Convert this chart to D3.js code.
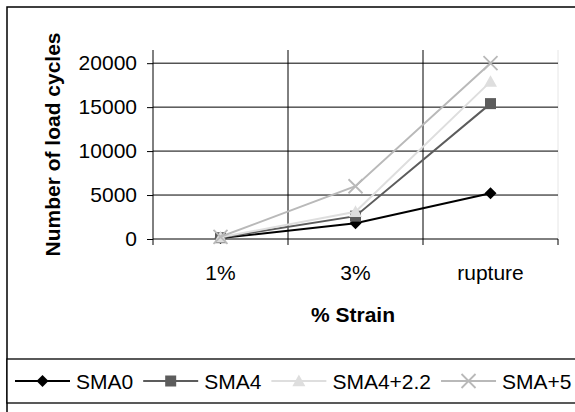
<!DOCTYPE html>
<html><head><meta charset="utf-8">
<script src="https://cdn.jsdelivr.net/npm/d3@7"></script>
<style>
html,body{margin:0;padding:0;background:#fff;}
svg{display:block;}
text{font-family:"Liberation Sans",Arial,sans-serif;fill:#000;}
</style></head>
<body>
<svg id="chart" width="575" height="412"></svg>
<script>
const categories = ["1%", "3%", "rupture"];
const seriesNames = ["SMA0", "SMA4", "SMA4+2.2", "SMA+5"];
const sma0 = [100, 1800, 5200];
const sma4 = [150, 2600, 15400];
const sma4_22 = [200, 3100, 17900];
const sma5 = [250, 6000, 20000];
const yTicks = [0, 5000, 10000, 15000, 20000];
const yTitle = "Number of load cycles";
const xTitle = "% Strain";

const seriesValues = [sma0, sma4, sma4_22, sma5];
const styles = [
  {color:"#000000", marker:"diamond", size:6},
  {color:"#5c5c5c", marker:"square", size:5.5},
  {color:"#dedede", marker:"triangle", size:6.5},
  {color:"#b9b9b9", marker:"x", size:7}
];

const svg = d3.select("#chart");
const fs = 21;
const plot = {left:153, right:558, top:50, bottom:239};

const x = d3.scaleBand().domain(categories).range([plot.left, plot.right]).padding(0);
const y = d3.scaleLinear().domain([0, 21500]).range([plot.bottom, plot.top]);

// outer chart border
svg.append("rect").attr("x",7).attr("y",7).attr("width",600).attr("height",450)
  .attr("fill","#fff").attr("stroke","#000").attr("stroke-width",1.5);

// plot right edge (light)
svg.append("line").attr("x1",plot.right).attr("x2",plot.right)
  .attr("y1",plot.top).attr("y2",plot.bottom).attr("stroke","#e6e6e6").attr("stroke-width",1);

// horizontal gridlines + y axis
const yAxis = d3.axisLeft(y).tickValues(yTicks).tickSize(6).tickPadding(10).tickFormat(d3.format("d"));
const gy = svg.append("g").attr("transform",`translate(${plot.left},0)`).call(yAxis);
gy.select(".domain").remove();
gy.selectAll(".tick line").attr("stroke","#000");
gy.selectAll(".tick text").style("font-size",fs+"px").attr("font-family",null);
svg.append("g").selectAll("line").data(yTicks).join("line")
  .attr("x1",plot.left).attr("x2",plot.right)
  .attr("y1",d=>y(d)).attr("y2",d=>y(d)).attr("stroke","#000").attr("stroke-width",1);

// vertical gridlines at category boundaries
const bounds = categories.map(c=>x(c));
svg.append("g").selectAll("line").data(bounds).join("line")
  .attr("x1",d=>d).attr("x2",d=>d).attr("y1",plot.top).attr("y2",plot.bottom+6)
  .attr("stroke","#000").attr("stroke-width",1);
svg.append("line").attr("x1",plot.right).attr("x2",plot.right)
  .attr("y1",plot.bottom).attr("y2",plot.bottom+6).attr("stroke","#000");

// x axis labels
const xAxis = d3.axisBottom(x).tickSize(0).tickPadding(26);
const gx = svg.append("g").attr("transform",`translate(0,${plot.bottom})`).call(xAxis);
gx.select(".domain").remove();
gx.selectAll(".tick text").style("font-size",fs+"px").attr("font-family",null);

// axis titles
svg.append("text").attr("x",353).attr("y",322).attr("text-anchor","middle")
  .style("font-size",fs+"px").style("font-weight","bold").text(xTitle);
svg.append("text").attr("transform",`translate(60,${(plot.top+plot.bottom)/2}) rotate(-90)`)
  .attr("text-anchor","middle").style("font-size",fs+"px").style("font-weight","bold").text(yTitle);

function drawMarker(g, st, cx, cy){
  const s = st.size;
  if(st.marker==="x"){
    g.append("path").attr("d",`M${cx-s},${cy-s}L${cx+s},${cy+s}M${cx-s},${cy+s}L${cx+s},${cy-s}`)
      .attr("stroke",st.color).attr("stroke-width",1.8).attr("fill","none");
  } else if(st.marker==="diamond"){
    g.append("path").attr("d",`M${cx},${cy-s}L${cx+s},${cy}L${cx},${cy+s}L${cx-s},${cy}Z`).attr("fill",st.color);
  } else if(st.marker==="square"){
    g.append("rect").attr("x",cx-s).attr("y",cy-s).attr("width",2*s).attr("height",2*s).attr("fill",st.color);
  } else {
    g.append("path").attr("d",`M${cx},${cy-s}L${cx+s},${cy+s*0.8}L${cx-s},${cy+s*0.8}Z`).attr("fill",st.color);
  }
}

// series
const line = d3.line().x((d,i)=>x(categories[i])+x.bandwidth()/2).y(d=>y(d));
seriesValues.forEach((vals,si)=>{
  const st = styles[si];
  const g = svg.append("g");
  g.append("path").datum(vals).attr("d",line).attr("fill","none")
    .attr("stroke",st.color).attr("stroke-width",2);
  vals.forEach((v,i)=>drawMarker(g, st, x(categories[i])+x.bandwidth()/2, y(v)));
});

// legend box
svg.append("rect").attr("x",7).attr("y",359).attr("width",600).attr("height",44)
  .attr("fill","#fff").attr("stroke","#000").attr("stroke-width",1.3);
let lx = 15;
const ly = 381;
seriesNames.forEach((name,si)=>{
  const st = styles[si];
  const g = svg.append("g");
  g.append("line").attr("x1",lx).attr("x2",lx+55).attr("y1",ly).attr("y2",ly)
    .attr("stroke",st.color).attr("stroke-width",2);
  drawMarker(g, st, lx+27.5, ly);
  const t = g.append("text").attr("x",lx+61).attr("y",ly+7.5).style("font-size",fs+"px").text(name);
  lx = lx + 61 + t.node().getComputedTextLength() + 10;
});
</script>
</body></html>
